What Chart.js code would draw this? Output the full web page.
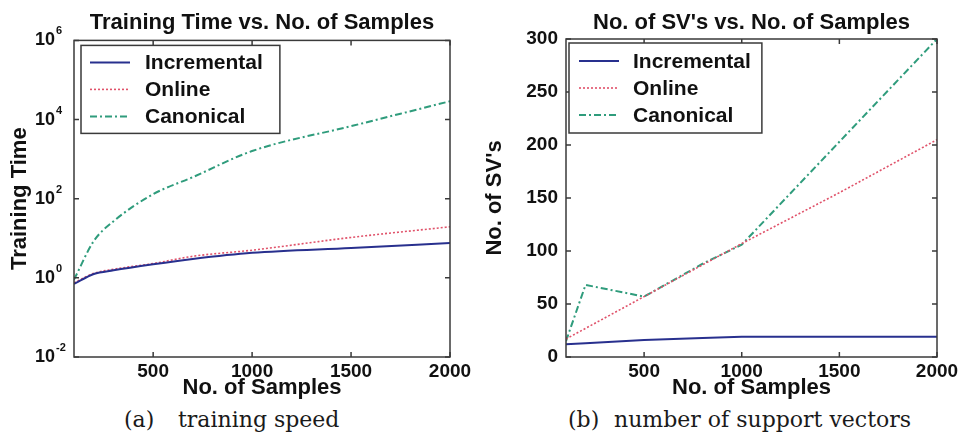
<!DOCTYPE html>
<html>
<head>
<meta charset="utf-8">
<script src="https://cdn.jsdelivr.net/npm/chart.js@4"></script>
<style>
  html, body { margin: 0; padding: 0; background: #fff; }
  #wrap { position: relative; width: 964px; height: 441px; overflow: hidden; }
  .panel { position: absolute; top: 0; width: 482px; height: 400px; }
  .cap { position: absolute; top: 407px; font-family: "DejaVu Serif", "Liberation Serif", serif;
         font-size: 22px; color: #1a1a1a; white-space: pre; }
</style>
</head>
<body>
<div id="wrap">
  <div class="panel" style="left:0"><canvas id="speed"></canvas></div>
  <div class="panel" style="left:482px"><canvas id="svs"></canvas></div>
  <div class="cap" style="left:124px">(a)</div>
  <div class="cap" style="left:178px">training speed</div>
  <div class="cap" style="left:568px">(b)</div>
  <div class="cap" style="left:614px">number of support vectors</div>
</div>
<script>
// ---- data ----------------------------------------------------------------
const seriesNames = ['Incremental', 'Online', 'Canonical'];

// training time (seconds, log axis) against number of samples
const samples = [100, 200, 300, 500, 700, 1000, 1500, 2000];
const timeIncremental = [0.7, 1.25, 1.55, 2.2, 3.0, 4.3, 5.7, 7.6];
const timeOnline = [0.75, 1.3, 1.65, 2.3, 3.5, 5.0, 10.5, 19.5];
const timeCanonical = [0.9, 8.5, 27, 130, 350, 1600, 6800, 29000];

// number of support vectors against number of samples
const svSamplesIncremental = [100, 200, 500, 800, 1000, 2000];
const svIncremental = [12, 13, 16, 18, 19, 19];
const svSamplesOnline = [100, 500, 1000, 1500, 2000];
const svOnline = [17, 57, 107, 155, 205];
const svSamplesCanonical = [100, 200, 500, 800, 1000, 2000];
const svCanonical = [15, 68, 57, 88, 106, 300];

// axis ticks
const sampleTicks = [500, 1000, 1500, 2000];
const timeTickExponents = [-2, 0, 2, 4, 6];
const svTicks = [0, 50, 100, 150, 200, 250, 300];

// ---- helpers -------------------------------------------------------------
const FONT = "'Liberation Sans', Arial, sans-serif";
const INK = '#111';
const FRAME = '#3a3a3a';

const lineStyles = [
  { borderColor: '#28308e', borderWidth: 2,   borderDash: [] },
  { borderColor: '#e0526a', borderWidth: 1.6, borderDash: [2, 2] },
  { borderColor: '#2f9c7c', borderWidth: 2,   borderDash: [7, 3, 2, 3] }
];

const pts = (xs, ys) => xs.map((x, i) => ({ x, y: ys[i] }));

function makeDatasets(seriesData, smooth) {
  return seriesData.map((data, i) => Object.assign({
    label: seriesNames[i],
    data,
    pointRadius: 0,
    fill: false,
    cubicInterpolationMode: smooth ? 'monotone' : 'default',
    tension: 0
  }, lineStyles[i]));
}

// box around the plot with inward tick marks on all four sides
const framePlugin = {
  id: 'frame',
  afterDatasetsDraw(chart) {
    const { ctx, chartArea: a, scales: { x, y } } = chart;
    const L = 5;
    ctx.save();
    ctx.strokeStyle = FRAME;
    ctx.lineWidth = 1.5;
    ctx.beginPath();
    x.ticks.forEach(t => {
      const px = x.getPixelForValue(t.value);
      ctx.moveTo(px, a.bottom); ctx.lineTo(px, a.bottom - L);
      ctx.moveTo(px, a.top); ctx.lineTo(px, a.top + L);
    });
    y.ticks.forEach(t => {
      const py = y.getPixelForValue(t.value);
      ctx.moveTo(a.left, py); ctx.lineTo(a.left + L, py);
      ctx.moveTo(a.right, py); ctx.lineTo(a.right - L, py);
    });
    ctx.stroke();
    ctx.strokeRect(a.left, a.top, a.right - a.left, a.bottom - a.top);
    ctx.restore();
  }
};

// raised exponents next to the "10" decade labels of a log axis
const decadeExponents = {
  id: 'decadeExponents',
  afterDraw(chart, args, o) {
    if (!o.enabled) return;
    const { ctx, scales: { y } } = chart;
    ctx.save();
    ctx.font = `bold ${o.size}px ${FONT}`;
    ctx.fillStyle = INK;
    ctx.textAlign = 'left';
    ctx.textBaseline = 'middle';
    y.ticks.forEach(t => {
      const e = Math.round(Math.log10(t.value));
      ctx.fillText(String(e), o.x, y.getPixelForValue(t.value) - o.rise);
    });
    ctx.restore();
  }
};

// boxed legend in the upper-left corner of the plot
const boxLegend = {
  id: 'boxLegend',
  afterDraw(chart, args, o) {
    const { ctx, chartArea: a } = chart;
    const ds = chart.data.datasets;
    ctx.save();
    ctx.font = `bold ${o.size}px ${FONT}`;
    const textW = Math.max(...ds.map(d => ctx.measureText(d.label).width));
    const bx = a.left + o.dx, by = a.top + o.dy;
    const w = o.textX + textW + o.padRight;
    const h = o.rowH * ds.length + o.padV * 2;
    ctx.fillStyle = '#fff';
    ctx.fillRect(bx, by, w, h);
    ctx.strokeStyle = FRAME;
    ctx.lineWidth = 1.5;
    ctx.strokeRect(bx, by, w, h);
    ds.forEach((d, i) => {
      const cy = by + o.padV + o.rowH * (i + 0.5);
      ctx.strokeStyle = d.borderColor;
      ctx.lineWidth = d.borderWidth;
      ctx.setLineDash(d.borderDash || []);
      ctx.beginPath();
      ctx.moveTo(bx + o.lineX0, cy);
      ctx.lineTo(bx + o.lineX1, cy);
      ctx.stroke();
      ctx.setLineDash([]);
      ctx.fillStyle = INK;
      ctx.textAlign = 'left';
      ctx.textBaseline = 'middle';
      ctx.fillText(d.label, bx + o.textX, cy + 1);
    });
    ctx.restore();
  }
};

const tickFont = { family: FONT, size: 19, weight: 'bold' };
const titleFont = { family: FONT, size: 22, weight: 'bold', lineHeight: 1.2 };

function xScale() {
  return {
    type: 'linear', min: 100, max: 2000,
    afterBuildTicks: s => { s.ticks = sampleTicks.map(v => ({ value: v })); },
    afterFit: s => { s.height = 43; },
    grid: { display: false, drawTicks: false },
    border: { display: false },
    ticks: { font: tickFont, color: INK, padding: 3, maxRotation: 0, autoSkip: false, callback: v => String(v) },
    title: { display: true, text: 'No. of Samples', font: titleFont, color: INK, padding: { top: 0, bottom: -1 } }
  };
}

function baseOptions(title, titlePad, padRight, legendOpts, expOpts, xs, ys) {
  return {
    responsive: true,
    maintainAspectRatio: false,
    animation: false,
    events: [],
    layout: { padding: { left: 0, right: padRight, top: 0, bottom: 0 } },
    scales: { x: xs, y: ys },
    plugins: {
      legend: { display: false },
      tooltip: { enabled: false },
      title: { display: true, text: title, fullSize: false, font: titleFont, color: INK, padding: titlePad },
      boxLegend: legendOpts,
      decadeExponents: expOpts
    }
  };
}

Chart.register(framePlugin, decadeExponents, boxLegend);

// ---- (a) training time -------------------------------------------------
new Chart(document.getElementById('speed'), {
  type: 'line',
  data: {
    datasets: makeDatasets([
      pts(samples, timeIncremental),
      pts(samples, timeOnline),
      pts(samples, timeCanonical)
    ], true)
  },
  options: baseOptions(
    'Training Time vs. No. of Samples',
    { top: 10, bottom: 4 },
    32,
    { size: 21, dx: 7, dy: 5, rowH: 27, padV: 3.5, lineX0: 9, lineX1: 49, textX: 64, padRight: 17 },
    { enabled: true, x: 56, rise: 9, size: 11 },
    xScale(),
    {
      type: 'logarithmic', min: 0.01, max: 1e6,
      afterBuildTicks: s => { s.ticks = timeTickExponents.map(e => ({ value: Math.pow(10, e) })); },
      afterFit: s => { s.width = 74; },
      grid: { display: false, drawTicks: false },
      border: { display: false },
      ticks: {
        font: { family: FONT, size: 18, weight: 'bold' }, color: INK, padding: 19,
        callback: () => '10'
      },
      title: { display: true, text: 'Training Time', font: titleFont, color: INK, padding: { top: 7, bottom: 0 } }
    }
  )
});

// ---- (b) number of support vectors -------------------------------------
new Chart(document.getElementById('svs'), {
  type: 'line',
  data: {
    datasets: makeDatasets([
      pts(svSamplesIncremental, svIncremental),
      pts(svSamplesOnline, svOnline),
      pts(svSamplesCanonical, svCanonical)
    ], false)
  },
  options: baseOptions(
    "No. of SV's vs. No. of Samples",
    { top: 10, bottom: 2.6 },
    27,
    { size: 21, dx: 3, dy: 4, rowH: 27, padV: 4.5, lineX0: 10, lineX1: 50, textX: 64, padRight: 11 },
    { enabled: false },
    xScale(),
    {
      type: 'linear', min: 0, max: 300,
      afterBuildTicks: s => { s.ticks = svTicks.map(v => ({ value: v })); },
      afterFit: s => { s.width = 84; },
      grid: { display: false, drawTicks: false },
      border: { display: false },
      ticks: { font: tickFont, color: INK, padding: 8, callback: v => String(v) },
      title: { display: true, text: "No. of SV's", font: titleFont, color: INK, padding: { top: 0, bottom: 0 } }
    }
  )
});
</script>
</body>
</html>
